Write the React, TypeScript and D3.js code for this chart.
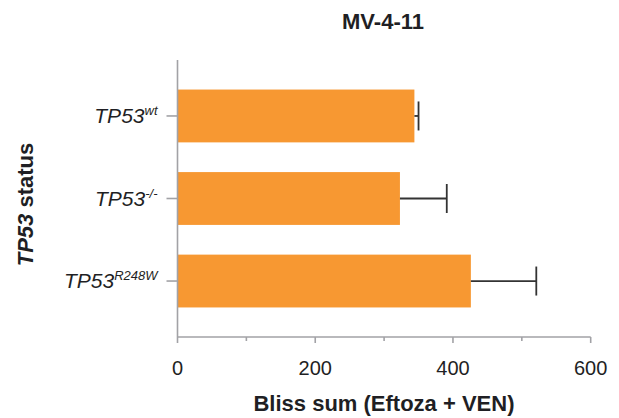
import React, { useEffect, useRef } from "react";
import * as d3 from "d3";

// TP53 status groups (superscript part of the label)
const groups = ["wt", "-/-", "R248W"];
const blissSum = [344, 323, 426];
const errors = [6, 68, 95];
const xTicks = [0, 100, 200, 300, 400, 500, 600];
const xTickLabels = ["0", "", "200", "", "400", "", "600"];

const W = 619;
const H = 418;

const App = () => {
  const ref = useRef<SVGSVGElement>(null);

  useEffect(() => {
    const svg = d3.select(ref.current);
    svg.selectAll("*").remove();

    const left = 177.5;
    const right = 590.7;
    const top = 60;
    const bottom = 337;
    const axisColor = "#a2a2a6";
    const textColor = "#1f1f24";
    const font = "'Liberation Sans', Arial, sans-serif";

    const x = d3.scaleLinear().domain([0, 600]).range([left, right]);
    const y = d3
      .scaleBand()
      .domain(groups)
      .range([top, bottom])
      .paddingInner(0.36)
      .paddingOuter(0.358);

    const data = groups.map((g, i) => ({ g, v: blissSum[i], e: errors[i] }));

    // bars
    svg
      .append("g")
      .selectAll("rect")
      .data(data)
      .join("rect")
      .attr("x", x(0))
      .attr("y", (d) => y(d.g)!)
      .attr("width", (d) => x(d.v) - x(0))
      .attr("height", y.bandwidth())
      .attr("fill", "#f79832");

    // error bars
    const eb = svg
      .append("g")
      .attr("stroke", "#333333")
      .attr("stroke-width", 1.8)
      .selectAll("g")
      .data(data)
      .join("g");
    eb.append("line")
      .attr("x1", (d) => x(d.v))
      .attr("x2", (d) => x(d.v + d.e))
      .attr("y1", (d) => y(d.g)! + y.bandwidth() / 2)
      .attr("y2", (d) => y(d.g)! + y.bandwidth() / 2);
    eb.append("line")
      .attr("x1", (d) => x(d.v + d.e))
      .attr("x2", (d) => x(d.v + d.e))
      .attr("y1", (d) => y(d.g)! + y.bandwidth() / 2 - 14.5)
      .attr("y2", (d) => y(d.g)! + y.bandwidth() / 2 + 14.5);

    // x axis
    const xAxis = svg.append("g").attr("transform", `translate(0,${bottom})`);
    xAxis
      .append("line")
      .attr("x1", left)
      .attr("x2", right)
      .attr("stroke", axisColor)
      .attr("stroke-width", 1.6);
    xAxis
      .selectAll("line.tick")
      .data(xTicks)
      .join("line")
      .attr("class", "tick")
      .attr("x1", (d) => x(d))
      .attr("x2", (d) => x(d))
      .attr("y1", 0)
      .attr("y2", (d, i) => (xTickLabels[i] ? 6 : 4))
      .attr("stroke", axisColor)
      .attr("stroke-width", 1.6);
    xAxis
      .selectAll("text")
      .data(xTicks)
      .join("text")
      .attr("x", (d) => x(d))
      .attr("y", 38)
      .attr("text-anchor", "middle")
      .attr("font-family", font)
      .attr("font-size", 20)
      .attr("fill", textColor)
      .text((d, i) => xTickLabels[i]);

    // y axis
    const yAxis = svg.append("g");
    yAxis
      .append("line")
      .attr("x1", left)
      .attr("x2", left)
      .attr("y1", top)
      .attr("y2", bottom)
      .attr("stroke", axisColor)
      .attr("stroke-width", 1.6);
    yAxis
      .selectAll("line.tick")
      .data(groups)
      .join("line")
      .attr("class", "tick")
      .attr("x1", left - 11)
      .attr("x2", left)
      .attr("y1", (d) => y(d)! + y.bandwidth() / 2)
      .attr("y2", (d) => y(d)! + y.bandwidth() / 2)
      .attr("stroke", axisColor)
      .attr("stroke-width", 1.6);
    const labels = yAxis
      .selectAll("text")
      .data(groups)
      .join("text")
      .attr("x", left - 20)
      .attr("y", (d) => y(d)! + y.bandwidth() / 2 + 7)
      .attr("text-anchor", "end")
      .attr("font-family", font)
      .attr("font-style", "italic")
      .attr("font-size", 21)
      .attr("fill", textColor);
    labels.append("tspan").text("TP53");
    labels
      .append("tspan")
      .attr("dy", -8)
      .attr("font-size", 13)
      .text((d) => d);

    // titles
    svg
      .append("text")
      .attr("x", 383)
      .attr("y", 29)
      .attr("text-anchor", "middle")
      .attr("font-family", font)
      .attr("font-weight", "bold")
      .attr("font-size", 22)
      .attr("fill", textColor)
      .text("MV-4-11");

    svg
      .append("text")
      .attr("x", 384)
      .attr("y", 411)
      .attr("text-anchor", "middle")
      .attr("font-family", font)
      .attr("font-weight", "bold")
      .attr("font-size", 22)
      .attr("fill", textColor)
      .text("Bliss sum (Eftoza + VEN)");

    const yTitle = svg
      .append("text")
      .attr("transform", `translate(33,${(top + bottom) / 2 + 6}) rotate(-90)`)
      .attr("text-anchor", "middle")
      .attr("font-family", font)
      .attr("font-weight", "bold")
      .attr("font-size", 22)
      .attr("fill", textColor);
    yTitle.append("tspan").attr("font-style", "italic").text("TP53");
    yTitle.append("tspan").text(" status");
  }, []);

  return (
    <svg
      ref={ref}
      width={W}
      height={H}
      style={{ position: "absolute", left: 0, top: 0, background: "#fff" }}
    />
  );
};

export default App;
